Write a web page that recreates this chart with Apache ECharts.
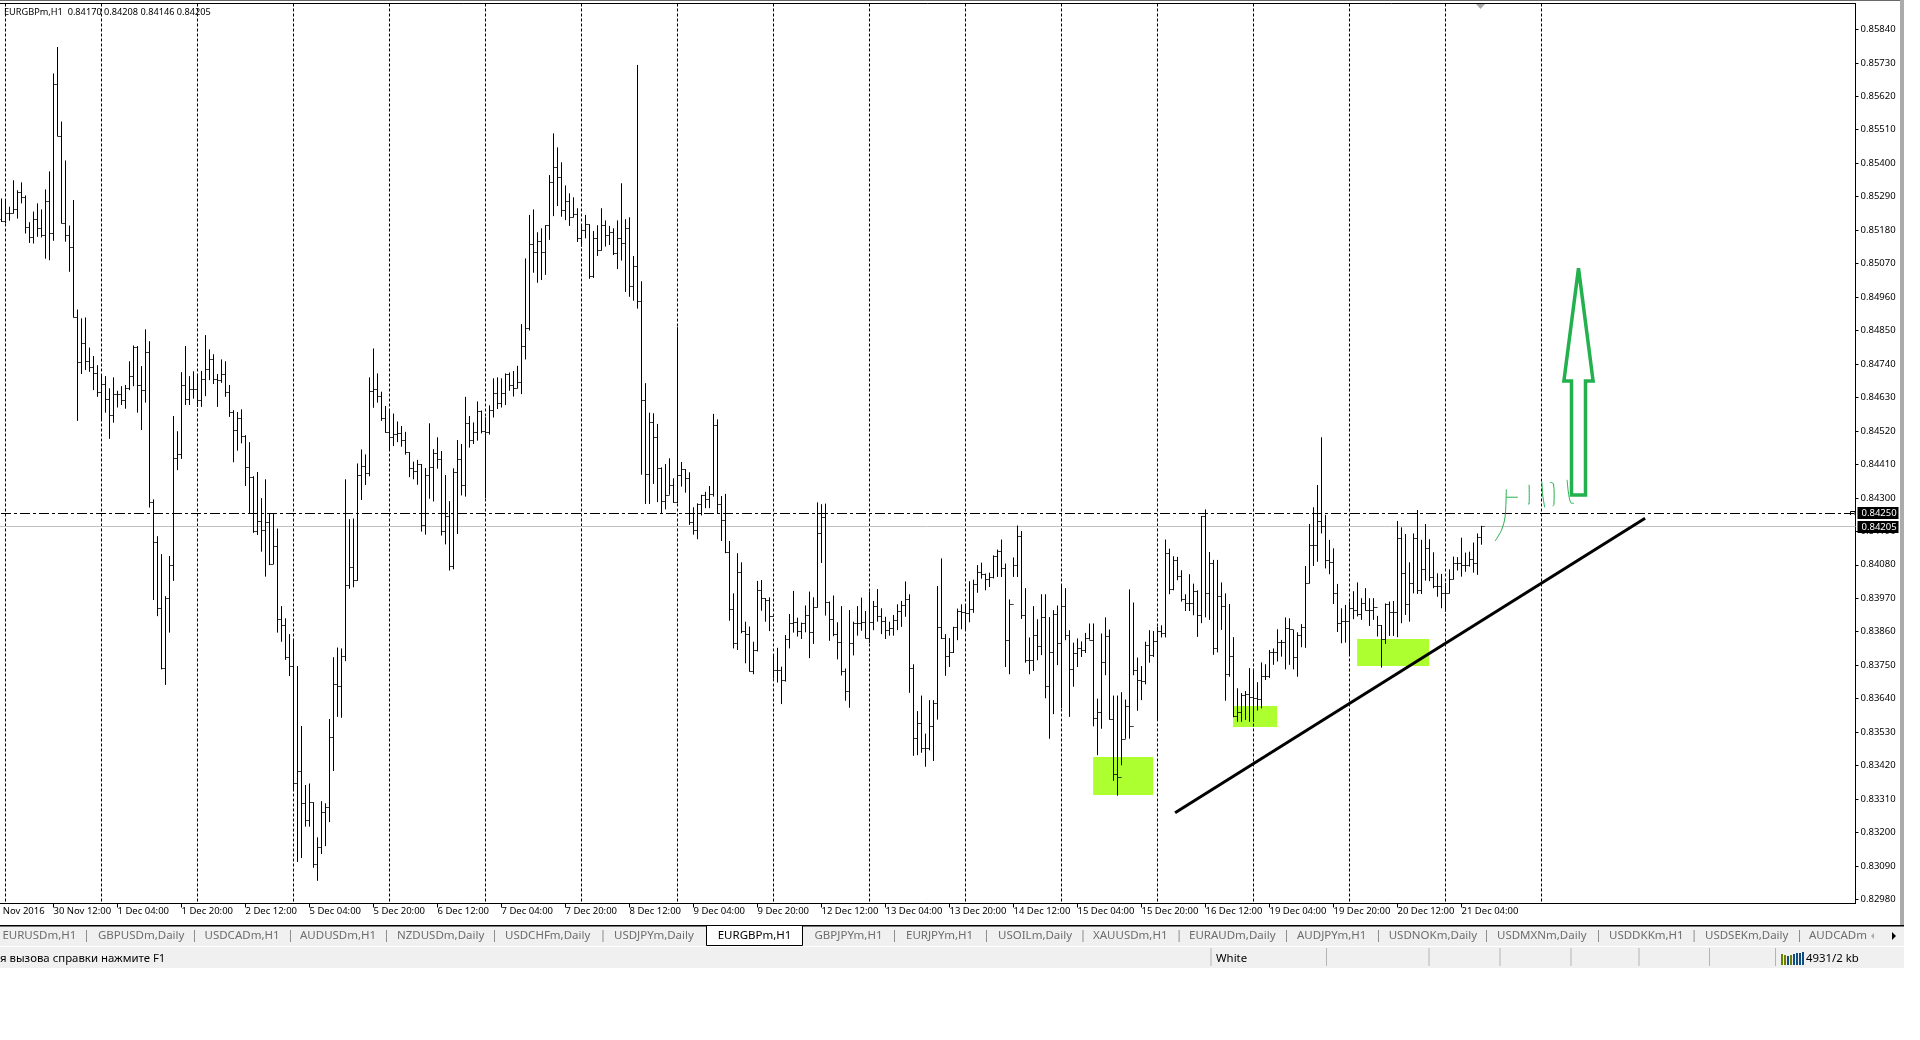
<!DOCTYPE html>
<html><head><meta charset="utf-8">
<script src="https://cdn.jsdelivr.net/npm/echarts@6/dist/echarts.min.js"></script>
<style>html,body{margin:0;padding:0;background:#fff}#c{width:1920px;height:1040px}</style>
</head><body><div id="c"></div>
<script>
// Prices are in points (1 point = 0.00001)
const highs=[85284,85282,85257,85344,85311,85337,85294,85206,85241,85268,
85248,85314,85373,85695,85782,85537,85409,85195,85279,84919,
84890,84893,84794,84766,84736,84703,84700,84660,84696,84652,
84667,84671,84749,84801,84799,84733,84854,84815,84295,84174,
84115,83977,84109,84569,84519,84713,84799,84700,84716,84703,
84717,84835,84788,84772,84707,84755,84749,84671,84588,84582,
84591,84506,84483,84371,84385,84299,84361,84249,84249,84199,
83944,83904,83852,83835,83747,83550,83356,83361,83299,83184,
83303,83296,83573,83776,83808,83805,84361,84230,84232,84413,
84459,84443,84696,84791,84709,84649,84602,84586,84577,84551,
84536,84517,84450,84419,84425,84411,84398,84545,84460,84499,
84454,84375,84289,84397,84490,84477,84632,84569,84548,84617,
84587,84565,84604,84693,84696,84693,84709,84712,84717,84734,
84871,85087,85230,85248,85173,85186,85196,85361,85498,85452,
85403,85327,85301,85288,85252,85196,85230,85199,85177,85196,
85252,85212,85194,85186,85212,85334,85216,85222,85095,85723,
85012,84677,84580,84578,84543,84400,84411,84430,84364,84861,
84418,84394,84384,84269,84282,84310,84320,84339,84576,84558,
84306,84313,84158,83986,84118,84088,83893,83877,83827,84027,
84030,83970,83973,83784,83807,83745,83849,83918,83994,83906,
83890,83946,83992,83973,84285,84279,84281,83959,83979,83891,
83944,83739,83931,83893,83944,83972,83928,83992,83961,84000,
83937,83909,83893,83915,83950,83961,84025,83983,83753,83599,
83650,83525,83635,83635,84010,84101,83852,83839,83876,83936,
83950,83949,84026,84031,84079,84087,84051,84054,84111,84130,
84163,84084,83966,84104,84209,84191,84003,83841,83944,83901,
83983,83983,83908,83931,83946,84012,84003,83865,83824,83838,
83828,83856,83887,83887,83640,83854,83907,83867,83650,83650,
83661,83637,83999,83956,83775,83747,83827,83865,83862,83876,
83881,84163,84133,84108,84106,84062,83983,84049,84018,83996,
84240,84262,84122,84096,84096,84022,83986,83951,83842,83674,
83658,83665,83740,83738,83694,83759,83753,83800,83805,83868,
83833,83907,83904,83866,83858,83885,84076,84214,84269,84342,
84499,84244,84162,84134,84017,83937,83948,83959,83993,84022,
83970,84003,83970,83970,83912,83882,83953,83959,83961,84224,
84203,84181,84088,84183,84260,84162,84214,84164,84121,84052,
84050,84021,84065,84107,84105,84169,84120,84123,84153,84183,
84208];
const lows=[85207,85202,85211,85235,85218,85268,85169,85138,85136,85158,
85156,85086,85081,85145,85489,85202,85142,85043,84893,84553,
84707,84720,84714,84654,84632,84558,84580,84494,84547,84597,
84605,84593,84654,84667,84580,84523,84613,84268,83964,83911,
83736,83685,83857,84027,84391,84428,84605,84605,84626,84599,
84599,84634,84687,84674,84599,84678,84632,84566,84417,84455,
84479,84339,84249,84185,84178,84123,84041,84079,84082,83857,
83827,83767,83714,83339,83103,83116,83219,83219,83084,83041,
83129,83155,83234,83402,83580,83577,83763,84001,84006,84027,
84293,84342,84371,84596,84613,84553,84514,84457,84470,84483,
84468,84442,84368,84361,84343,84189,84179,84297,84288,84396,
84176,84147,84061,84065,84181,84308,84304,84465,84477,84488,
84512,84299,84508,84564,84592,84597,84605,84652,84633,84660,
84641,84755,84850,85040,85007,85016,85033,85148,85226,85259,
85224,85213,85194,85222,85141,85126,85153,85020,85023,85095,
85113,85126,85131,85098,85052,85080,84977,84961,84948,84922,
84376,84280,84280,84346,84286,84247,84262,84310,84284,84282,
84337,84317,84211,84179,84164,84242,84266,84266,84304,84247,
84158,84118,83896,83805,83800,83855,83756,83729,83720,83795,
83929,83893,83862,83706,83693,83622,83696,83805,83857,83844,
83836,83858,83773,83820,83939,84086,83913,83830,83845,83769,
83716,83633,83610,83782,83847,83863,83838,83823,83865,83893,
83852,83836,83847,83847,83865,83876,83909,83659,83452,83454,
83462,83416,83470,83435,83571,83836,83715,83744,83790,83832,
83868,83868,83891,83922,83988,84034,83996,84007,84035,84040,
84040,83744,83720,84040,84040,83902,83758,83720,83731,83766,
83783,83641,83508,83589,83750,83609,83832,83580,83679,83744,
83777,83790,83834,83549,83454,83541,83717,83571,83370,83321,
83421,83508,83508,83717,83600,83635,83687,83758,83777,83567,
83841,83841,83983,83996,84029,83959,83928,83928,83914,83843,
83888,83907,83899,83784,83792,83866,83633,83712,83579,83564,
83564,83570,83564,83564,83601,83608,83701,83708,83751,83762,
83778,83736,83751,83736,83712,83809,83807,84019,84076,84090,
84183,84068,84049,83951,83859,83822,83824,83787,83901,83910,
83899,83929,83879,83899,83844,83742,83820,83846,83846,83842,
83888,83915,83893,83986,83984,83984,84028,84026,84003,83975,
83937,83926,83986,84032,84061,84041,84057,84074,84054,84047,
84146];
const closes=[85207,85235,85235,85248,85305,85287,85189,85156,85215,85185,
85162,85275,85169,85658,85489,85202,85162,85123,84893,84745,
84808,84748,84729,84709,84645,84673,84623,84571,84639,84639,
84621,84661,84699,84794,84669,84653,84777,84285,84152,83937,
83738,83969,84078,84430,84443,84669,84623,84656,84656,84621,
84689,84723,84755,84690,84687,84707,84646,84581,84520,84561,
84503,84400,84367,84188,84222,84191,84218,84082,84141,83900,
83879,83776,83745,83361,83401,83296,83239,83299,83095,83151,
83266,83282,83513,83687,83681,83780,84011,84070,84027,84374,
84402,84380,84649,84656,84632,84561,84515,84499,84508,84512,
84490,84449,84397,84387,84411,84208,84374,84400,84446,84427,
84190,84238,84074,84384,84425,84342,84545,84490,84514,84583,
84518,84515,84586,84644,84611,84644,84707,84669,84660,84679,
84797,84857,85132,85107,85141,85107,85194,85336,85386,85354,
85245,85275,85222,85231,85153,85180,85199,85027,85153,85113,
85196,85163,85173,85104,85153,85137,85186,84995,85060,84946,
84621,84377,84548,84499,84397,84289,84308,84339,84284,84375,
84392,84362,84220,84191,84277,84307,84293,84310,84538,84279,
84226,84121,83934,83822,84055,83860,83851,83729,83798,83997,
83970,83964,83910,83731,83731,83701,83833,83888,83890,83859,
83887,83913,83857,83939,84183,84237,83956,83900,83852,83824,
83729,83662,83821,83887,83887,83890,83838,83890,83944,83911,
83895,83865,83870,83898,83925,83946,83966,83739,83509,83558,
83476,83477,83547,83624,83874,83836,83777,83792,83874,83927,
83922,83920,83933,84016,84054,84049,84031,84038,84108,84122,
84068,83832,83948,84077,84174,83913,83766,83766,83849,83812,
83908,83679,83793,83918,83821,83942,83849,83736,83788,83805,
83799,83838,83832,83575,83596,83758,83845,83571,83389,83381,
83506,83613,83549,83731,83698,83695,83815,83782,83827,83862,
83854,84117,83999,84093,84040,83966,83953,83953,83993,83914,
84238,83984,84085,83804,83977,83942,83718,83778,83581,83594,
83651,83654,83644,83641,83638,83714,83714,83791,83792,83824,
83824,83871,83868,83776,83847,83874,84017,84144,84144,84222,
84205,84094,84087,83984,83888,83893,83893,83937,83931,83915,
83953,83929,83931,83939,83879,83835,83951,83924,83924,84167,
84050,83951,84019,84167,83995,84063,84134,84039,84010,84008,
83986,83986,84032,84083,84085,84076,84079,84096,84083,84170,
84205];
const opens=[85215,85207,85235,85235,85248,85305,85287,85189,85156,85215,
85185,85162,85275,85169,85658,85489,85202,85162,85123,84893,
84745,84808,84748,84729,84709,84645,84673,84623,84571,84639,
84639,84621,84661,84699,84794,84669,84653,84777,84285,84152,
83937,83738,83969,84078,84430,84443,84669,84623,84656,84656,
84621,84689,84723,84755,84690,84687,84707,84646,84581,84520,
84561,84503,84400,84367,84188,84222,84191,84218,84082,84141,
83900,83879,83776,83745,83361,83401,83296,83239,83299,83095,
83151,83266,83282,83513,83687,83681,83780,84011,84070,84027,
84374,84402,84380,84649,84656,84632,84561,84515,84499,84508,
84512,84490,84449,84397,84387,84411,84208,84374,84400,84446,
84427,84190,84238,84074,84384,84425,84342,84545,84490,84514,
84583,84518,84515,84586,84644,84611,84644,84707,84669,84660,
84679,84797,84857,85132,85107,85141,85107,85194,85336,85386,
85354,85245,85275,85222,85231,85153,85180,85199,85027,85153,
85113,85196,85163,85173,85104,85153,85137,85186,84995,85060,
84946,84621,84377,84548,84499,84397,84289,84308,84339,84284,
84375,84392,84362,84220,84191,84277,84307,84293,84310,84538,
84279,84226,84121,83934,83822,84055,83860,83851,83729,83798,
83997,83970,83964,83910,83731,83731,83701,83833,83888,83890,
83859,83887,83913,83857,83939,84183,84237,83956,83900,83852,
83824,83729,83662,83821,83887,83887,83890,83838,83890,83944,
83911,83895,83865,83870,83898,83925,83946,83966,83739,83509,
83558,83476,83477,83547,83624,83874,83836,83777,83792,83874,
83927,83922,83920,83933,84016,84054,84049,84031,84038,84108,
84122,84068,83832,83948,84077,84174,83913,83766,83766,83849,
83812,83908,83679,83793,83918,83821,83942,83849,83736,83788,
83805,83799,83838,83832,83575,83596,83758,83845,83571,83389,
83381,83506,83613,83549,83731,83698,83695,83815,83782,83827,
83862,83854,84117,83999,84093,84040,83966,83953,83953,83993,
83914,84238,83984,84085,83804,83977,83942,83718,83778,83581,
83594,83651,83654,83644,83641,83638,83714,83714,83791,83792,
83824,83824,83871,83868,83776,83847,83874,84017,84144,84144,
84222,84205,84094,84087,83984,83888,83893,83893,83937,83931,
83915,83953,83929,83931,83939,83879,83835,83951,83924,83924,
84167,84050,83951,84019,84167,83995,84063,84134,84039,84010,
84008,83986,83986,84032,84083,84085,84076,84079,84096,84083,
84170];
const timeLabels=['29 Nov 2016','30 Nov 12:00','1 Dec 04:00','1 Dec 20:00','2 Dec 12:00','5 Dec 04:00','5 Dec 20:00','6 Dec 12:00','7 Dec 04:00','7 Dec 20:00','8 Dec 12:00','9 Dec 04:00','9 Dec 20:00','12 Dec 12:00','13 Dec 04:00','13 Dec 20:00','14 Dec 12:00','15 Dec 04:00','15 Dec 20:00','16 Dec 12:00','19 Dec 04:00','19 Dec 20:00','20 Dec 12:00','21 Dec 04:00'];
const timeTickBars=[-3,13,29,45,61,77,93,109,125,141,157,173,189,205,221,237,253,269,285,301,317,333,349,365];
const separatorBars=[1,25,49,73,97,121,145,169,193,217,241,265,289,313,337,361,385];
const priceTicks=[82980,83090,83200,83310,83420,83530,83640,83750,83860,83970,84080,84190,84300,84410,84520,84630,84740,84850,84960,85070,85180,85290,85400,85510,85620,85730,85840];
const levelLine=84250, bidLine=84205;
// hand-drawn annotations: [barFrom, barTo, priceLow, priceHigh]
const greenBoxes=[[272.9,287.9,83323,83448],[307.9,318.9,83547,83616],[338.9,356.9,83747,83836]];
const trendLine=[[293.4,83265],[410.9,84233]];
const arrowOutline=[[394.25,85055],[397.9,84684],[396,84684],[396,84309],[392.5,84309],[392.5,84684],[390.6,84684],[394.25,85055]];
const scrawls=[
 [[373.4,84158],[375,84194],[375.9,84238],[376.2,84328]],
 [[376.2,84302],[379.1,84302]],
 [[381.9,84343],[381.9,84280],[381.6,84280]],
 [[385.1,84353],[385.3,84309],[385.8,84269]],
 [[387.1,84351],[388,84346],[388.1,84277],[387.8,84273]],
 [[391.4,84359],[391.7,84320],[392.3,84284],[393.1,84282]]
];
const tabNames=['EURUSDm,H1','GBPUSDm,Daily','USDCADm,H1','AUDUSDm,H1','NZDUSDm,Daily','USDCHFm,Daily','USDJPYm,Daily','EURGBPm,H1','GBPJPYm,H1','EURJPYm,H1','USOILm,Daily','XAUUSDm,H1','EURAUDm,Daily','AUDJPYm,H1','USDNOKm,Daily','USDMXNm,Daily','USDDKKm,H1','USDSEKm,Daily'];
const tabTextX=[2.4,98,204.5,300,397,505,614,717.7,814.5,906,998,1093,1189,1297,1388.7,1497,1609,1705];
const tabSepX=[86,194,290,386,494,602.5,894,986,1082.5,1178.6,1286,1378,1486,1598,1693.6,1799];
const statusSepX=[1210.5,1326,1428.5,1499.5,1570.5,1638.5,1709,1775];
const connBars=[[1781,11,'#6b7f00'],[1784,10,'#6b7f00'],[1787,9,'#0f4c81'],[1790,10,'#6b7f00'],[1793,11,'#0f4c81'],[1796,12,'#0f4c81'],[1799,12,'#0f4c81'],[1802,13,'#0f4c81']];
const FONT='"Noto Sans",sans-serif';
const chart=echarts.init(document.getElementById('c'),null,{renderer:'canvas'});
const snap=y=>Math.round(y-0.5)+0.5;
const bars=highs.map((h,k)=>[k,opens[k],h,lows[k],closes[k]]);
const G=[];
const rect=(x,y,w,h,fill)=>G.push({type:'rect',shape:{x,y,width:w,height:h},style:{fill},silent:true,z:50});
const vline=(x,y1,y2,c)=>G.push({type:'line',shape:{x1:x,y1,x2:x,y2},style:{stroke:c,lineWidth:1},silent:true,z:52});
const txt=(x,y,t,c,fs)=>G.push({type:'text',x,y,style:{text:t,fill:c,font:(fs||11)+'px '+FONT,verticalAlign:'middle',align:'left'},silent:true,z:54});
// window chrome
rect(0,0,1904,1,'#696969');
rect(1900,0,4,925,'#ababab');
rect(0,926,1904,20,'#f0f0f0');
rect(0,947,1904,21,'#f0f0f0');
rect(0,925,1904,1.5,'#000');
rect(706,926,96,19,'#fff');
G.push({type:'polyline',shape:{points:[[706.5,926],[706.5,945.5],[802.5,945.5],[802.5,926]]},style:{stroke:'#000',lineWidth:1,fill:null},silent:true,z:53});
tabSepX.forEach(x=>vline(x+.5,930,942,'#8c8c8c'));
statusSepX.forEach(x=>vline(x+.5,948,966,'#b4b4b4'));
tabNames.forEach((t,i)=>txt(tabTextX[i],936,t,i===7?'#000':'#6d6d6d',11.5));
txt(1809,936,'AUDCADm','#6d6d6d',11.5);
G.push({type:'polygon',shape:{points:[[1874,933],[1874,939],[1871,936]]},style:{fill:'#aaa'},silent:true,z:54});
G.push({type:'polygon',shape:{points:[[1892,932],[1892,940],[1896,936]]},style:{fill:'#000'},silent:true,z:54});
txt(0,959,'я вызова справки нажмите F1','#000',11.4);
txt(1216,959,'White','#000',11.4);
txt(1806,959,'4931/2 kb','#000',11.4);
connBars.forEach(b=>rect(b[0],965-b[1],2,b[1],b[2]));
txt(4,12,'EURGBPm,H1  0.84170 0.84208 0.84146 0.84205','#000',9.2);
G.push({type:'polygon',shape:{points:[[1476,4],[1485,4],[1480.5,9]]},style:{fill:'#a8a8a8'},silent:true,z:54});

const custom=(name,z,data,renderItem)=>({type:'custom',name,z,data,renderItem,silent:true,animation:false,clip:false,coordinateSystem:'cartesian2d'});
const xEdge=[-3,463.5];
chart.setOption({
 animation:false,backgroundColor:'#fff',
 grid:{left:-10.5,top:3.5,width:1866,height:900,show:true,backgroundColor:'#fff',borderColor:'#000',borderWidth:1,containLabel:false,outerBoundsMode:'none'},
 xAxis:{type:'value',min:xEdge[0],max:xEdge[1],splitLine:{show:false},
  axisLine:{show:true,onZero:false,lineStyle:{color:'#000',width:1}},
  axisTick:{show:true,length:4,customValues:timeTickBars,lineStyle:{color:'#000'}},
  axisLabel:{show:true,customValues:timeTickBars,align:'left',margin:3,color:'#000',fontSize:9.5,fontFamily:FONT,hideOverlap:false,showMinLabel:true,showMaxLabel:true,
   formatter:v=>timeLabels[timeTickBars.indexOf(v)]||''}},
 yAxis:{type:'value',position:'right',min:82966.5,max:85925,splitLine:{show:false},
  axisLine:{show:true,onZero:false,lineStyle:{color:'#000',width:1}},
  axisTick:{show:true,length:3,customValues:priceTicks,lineStyle:{color:'#000'}},
  axisLabel:{show:true,customValues:priceTicks,margin:5,color:'#000',fontSize:9.5,fontFamily:FONT,hideOverlap:false,
   formatter:v=>(v/100000).toFixed(5)}},
 graphic:{elements:G},
 series:[
  custom('boxes',1,greenBoxes.map((b,i)=>[i]),(p,api)=>{const b=greenBoxes[p.dataIndex];const a=api.coord([b[0],b[3]]),c=api.coord([b[1],b[2]]);
    return {type:'rect',shape:{x:a[0],y:a[1],width:c[0]-a[0],height:c[1]-a[1]},style:{fill:'#adff2f'}};}),
  custom('separators',2,separatorBars.map(k=>[k]),(p,api)=>{const t=api.coord([api.value(0),85925]),b=api.coord([api.value(0),82966.5]);
    return {type:'line',shape:{x1:t[0],y1:t[1],x2:b[0],y2:b[1]},style:{stroke:'#000',lineWidth:1,lineDash:[3,2]}};}),
  custom('levels',2,[[levelLine],[bidLine]],(p,api)=>{const v=api.value(0);const y=snap(api.coord([0,v])[1]);const x2=api.coord([463.5,v])[0];
    return p.dataIndex===0?{type:'line',shape:{x1:1,y1:y,x2,y2:y},style:{stroke:'#000',lineWidth:1,lineDash:[10,3,3,3]}}
      :{type:'line',shape:{x1:0,y1:y,x2,y2:y},style:{stroke:'#c0c0c0',lineWidth:1}};}),
  custom('EURGBPm,H1',3,bars,(p,api)=>{const k=api.value(0);const hi=api.coord([k,api.value(2)]),lo=api.coord([k,api.value(3)]);
    const oy=snap(api.coord([k,api.value(1)])[1]),cy=snap(api.coord([k,api.value(4)])[1]);const x=hi[0];
    const tick=api.coord([k+0.75,0])[0]-x;
    return {type:'group',children:[
     {type:'line',shape:{x1:x,y1:hi[1],x2:x,y2:lo[1]},style:{stroke:'#000',lineWidth:1}},
     {type:'line',shape:{x1:x-tick,y1:oy,x2:x,y2:oy},style:{stroke:'#000',lineWidth:1,lineDash:[1,1]}},
     {type:'line',shape:{x1:x,y1:cy,x2:x+tick,y2:cy},style:{stroke:'#000',lineWidth:1,lineDash:[1,1]}}]};}),
  custom('trend',4,[[0]],(p,api)=>({type:'polyline',shape:{points:trendLine.map(q=>api.coord(q))},style:{stroke:'#000',lineWidth:3,fill:null}})),
  custom('arrow',4,[[0]],(p,api)=>({type:'polyline',shape:{points:arrowOutline.map(q=>api.coord(q))},style:{stroke:'#22b14c',lineWidth:3.5,fill:null,lineJoin:'miter'}})),
  custom('scrawl',4,scrawls.map((s,i)=>[i]),(p,api)=>({type:'polyline',shape:{points:scrawls[p.dataIndex].map(q=>api.coord(q)),smooth:0.3},style:{stroke:'#22b14c',lineWidth:1,fill:null}})),
  custom('flags',6,[[levelLine],[bidLine]],(p,api)=>{const v=api.value(0);const c=api.coord([463.5,v]);const y=Math.round(c[1]);
    const ch=[{type:'rect',shape:{x:c[0]+2,y:y-6,width:41,height:12},style:{fill:'#000'}},
     {type:'text',x:c[0]+6,y:y,style:{text:(v/100000).toFixed(5),fill:'#fff',font:'9.5px '+FONT,verticalAlign:'middle',align:'left'}}];
    if(p.dataIndex===0)ch.push({type:'polyline',shape:{points:[[c[0]-5,y+2],[c[0]-5,y-1.5],[c[0]-.5,y-1.5],[c[0]-.5,y+2]]},style:{stroke:'#000',lineWidth:1,fill:null}});
    return {type:'group',children:ch};})
 ]
});
</script></body></html>
